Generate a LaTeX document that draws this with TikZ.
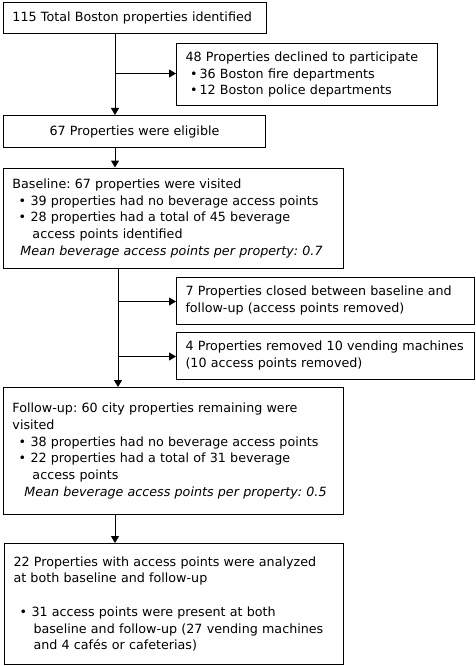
\documentclass[tikz,border=0pt]{standalone}
\usepackage{fontspec}
\setmainfont{DejaVu Sans}
\usetikzlibrary{arrows.meta}
\tikzset{
	flowbox/.style={draw, line width=1pt, anchor=north west, align=left, inner xsep=9pt, inner ysep=0pt,
		font=\fontsize{12.7}{16.7}\selectfont},
	flowarrow/.style={line width=1pt, -{Triangle[length=7pt, width=8pt]}}
}
\newcommand{\bul}{\hspace*{6pt}\makebox[12pt][l]{\textbullet}}
\newcommand{\bulnarrow}{\hspace*{4.5pt}\makebox[9.5pt][l]{\textbullet}}
\newcommand{\cont}{\hspace*{20pt}}
\frenchspacing

\begin{document}
\begin{tikzpicture}[x=1pt, y=-1pt]
	\useasboundingbox (0,0) rectangle (475,666);
	\node[flowbox, text width=245pt, minimum height=31pt] (total) at (3,2)
		{115 Total Boston properties identified};
	\node[flowbox, text width=243pt, minimum height=62pt] (declined) at (176,43)
		{48 Properties declined to participate\\
		\bulnarrow 36 Boston fire departments\\
		\bulnarrow 12 Boston police departments};
	\node[flowbox, text width=244pt, minimum height=32pt, align=center] (eligible) at (3,115)
		{67 Properties were eligible};
	\node[flowbox, text width=322pt, minimum height=100.5pt] (baseline) at (3,167.5)
		{Baseline: 67 properties were visited\\
		\bul 39 properties had no beverage access points\\
		\bul 28 properties had a total of 45 beverage\\
		\cont access points identified\\
		\hspace*{8pt}\textit{Mean beverage access points per property: 0.7}};
	\node[flowbox, text width=280pt, minimum height=47pt] (closed) at (176,276.5)
		{7 Properties closed between baseline and\\
		follow-up (access points removed)};
	\node[flowbox, text width=280pt, minimum height=47pt] (removed) at (176,331.5)
		{4 Properties removed 10 vending machines\\
		(10 access points removed)};
	\node[flowbox, text width=322pt, minimum height=127pt] (followup) at (3,387)
		{Follow-up: 60 city properties remaining were\\
		visited\\
		\bul 38 properties had no beverage access points\\
		\bul 22 properties had a total of 31 beverage\\
		\cont access points\\
		\hspace*{12pt}\textit{Mean beverage access points per property: 0.5}};
	\node[flowbox, text width=321pt, minimum height=121pt] (analyzed) at (4,543)
		{22 Properties with access points were analyzed\\
		at both baseline and follow-up\\
		~\\
		\bul 31 access points were present at both\\
		\cont baseline and follow-up (27 vending machines\\
		\cont and 4 caf\'es or cafeterias)};

	\coordinate (t1) at (115,73.5);
	\coordinate (t2) at (118,301.5);
	\coordinate (t3) at (118,356.5);
	\draw[flowarrow] (total.south -| t1) -- (eligible.north -| t1);
	\draw[flowarrow] (t1) -- (declined.west |- t1);
	\draw[flowarrow] (eligible.south -| t1) -- (baseline.north -| t1);
	\draw[flowarrow] (baseline.south -| t2) -- (followup.north -| t2);
	\draw[flowarrow] (t2) -- (closed.west |- t2);
	\draw[flowarrow] (t3) -- (removed.west |- t3);
	\draw[flowarrow] (followup.south -| t1) -- (analyzed.north -| t1);
\end{tikzpicture}
\end{document}
